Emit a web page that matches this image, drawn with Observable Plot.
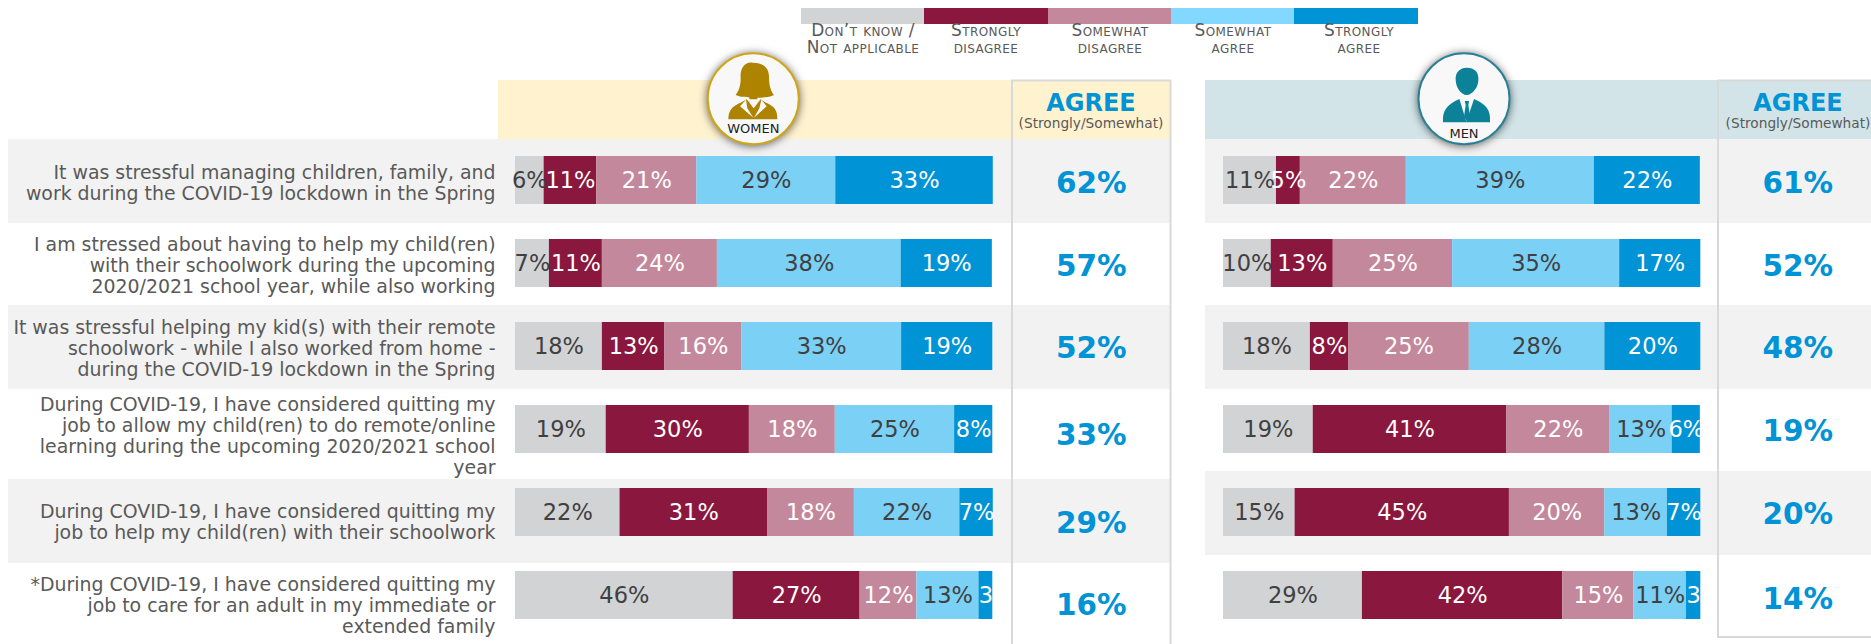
<!DOCTYPE html>
<html><head><meta charset="utf-8">
<style>html,body{margin:0;padding:0;background:#fff;overflow:hidden}svg{display:block}</style>
<script src="https://cdn.jsdelivr.net/npm/d3@7"></script>
<script src="https://cdn.jsdelivr.net/npm/@observablehq/plot@0.6"></script>
</head><body><div id="chart"></div>
<script>
const categories = ["Don’t know /\nNot applicable","Strongly\ndisagree","Somewhat\ndisagree","Somewhat\nagree","Strongly\nagree"];
const colors = ["#D2D3D5","#8A173E","#C4889C","#7BD0F6","#0093D5"];
const questions = [
 "It was stressful managing children, family, and\nwork during the COVID-19 lockdown in the Spring",
 "I am stressed about having to help my child(ren)\nwith their schoolwork during the upcoming\n2020/2021 school year, while also working",
 "It was stressful helping my kid(s) with their remote\nschoolwork - while I also worked from home -\nduring the COVID-19 lockdown in the Spring",
 "During COVID-19, I have considered quitting my\njob to allow my child(ren) to do remote/online\nlearning during the upcoming 2020/2021 school\nyear",
 "During COVID-19, I have considered quitting my\njob to help my child(ren) with their schoolwork",
 "*During COVID-19, I have considered quitting my\njob to care for an adult in my immediate or\nextended family"
];
const womenValues = [
 [6.0,11.0,21.0,29.1,33.0],
 [7.1,11.1,24.1,38.5,19.1],
 [18.2,13.1,16.1,33.5,19.1],
 [19.0,30.0,18.0,25.0,8.0],
 [21.9,30.9,18.2,22.1,7.0],
 [45.6,26.6,11.9,13.0,2.9]
];
const womenLabels = [
 ["6%","11%","21%","29%","33%"],
 ["7%","11%","24%","38%","19%"],
 ["18%","13%","16%","33%","19%"],
 ["19%","30%","18%","25%","8%"],
 ["22%","31%","18%","22%","7%"],
 ["46%","27%","12%","13%","3"]
];
const menValues = [
 [11.1,5.0,22.2,39.4,22.2],
 [10.0,13.0,25.0,35.0,17.0],
 [18.2,8.0,25.3,28.4,20.1],
 [18.8,40.5,21.7,13.0,5.9],
 [15.0,44.9,20.0,13.1,7.0],
 [29.1,42.0,14.9,11.0,3.0]
];
const menLabels = [
 ["11%","5%","22%","39%","22%"],
 ["10%","13%","25%","35%","17%"],
 ["18%","8%","25%","28%","20%"],
 ["19%","41%","22%","13%","6%"],
 ["15%","45%","20%","13%","7%"],
 ["29%","42%","15%","11%","3"]
];
const womenAgree = ["62%","57%","52%","33%","29%","16%"];
const menAgree = ["61%","52%","48%","19%","20%","14%"];

const FONT = "'DejaVu Sans', Verdana, sans-serif";
const MEN_DX = 708;
const tall = (vals, labs) => vals.flatMap((row, i) => row.map((value, j) => ({q: questions[i], cat: categories[j], value, label: labs[i][j], j})));
const women = tall(womenValues, womenLabels);
const men = tall(menValues, menLabels);

function decor(index, scales) {
  const g = d3.create("svg:g").attr("font-family", FONT);
  const yc = i => scales.y(questions[i]) + scales.y.bandwidth() / 2;
  const rect = (x, y, w, h, fill) => g.append("rect").attr("x", x).attr("y", y).attr("width", w).attr("height", h).attr("fill", fill);
  // row bands
  [[0, 0], [2, 0], [4, 8]].forEach(([i, s]) => rect(8, yc(i) - 41 + s, 1163, 84, "#F2F2F2"));
  [0, 2, 4].forEach(i => rect(1205, yc(i) - 41, 666, 84, "#F2F2F2"));
  // headers
  rect(498, 80, 673, 59, "#FFF2CF");
  rect(1205, 80, 666, 59, "#D2E4E8");
  // Agree boxes
  const line = (d) => g.append("path").attr("d", d).attr("fill", "none").attr("stroke", "#D9D9D9").attr("stroke-width", 2);
  line("M1012,644V80.5H1170.5V644");
  line("M1871,637H1718V80.5H1871");
  // Agree headers
  const text = (x, y, s, size, fill, weight) => g.append("text").attr("x", x).attr("y", y).attr("dy", "0.35em").attr("text-anchor", "middle").attr("font-size", size).attr("fill", fill).attr("font-weight", weight || "normal").text(s);
  [1091, 1798].forEach(x => {
    text(x, 103, "AGREE", 24, "#0093D5", "bold");
    text(x, 123, "(Strongly/Somewhat)", 13.7, "#595959");
  });
  // legend
  const edges = [801, 924, 1048, 1171, 1294, 1418];
  const centers = [863, 986, 1110, 1233, 1359];
  categories.forEach((c, i) => {
    rect(edges[i], 8, edges[i + 1] - edges[i], 16, i === 3 ? "#82D8FF" : scales.color(c));
    c.split("\n").forEach((t, k) => text(centers[i], 30.5 + k * 17, t, 17, "#595959").attr("font-variant", "small-caps").attr("letter-spacing", 0.4));
  });
  // badges
  const badge = (cx, stroke, iconFill, label, labelY, draw) => {
    g.append("circle").attr("cx", cx).attr("cy", 98.7).attr("r", 45.5).attr("fill", "#F8F8F8").attr("stroke", stroke).attr("stroke-width", 2)
      .style("filter", "drop-shadow(0 1px 4px rgba(0,0,0,.6))");
    const ic = g.append("g").attr("transform", `translate(${cx - 63.3},45) scale(${1 / 3})`).attr("fill", iconFill);
    draw(ic);
    text(cx, labelY, label, 13, "#222");
  };
  badge(753.3, "#CFA616", "#AD8300", "WOMEN", 128, ic => {
    ic.append("path").attr("d", "M188 53C160 50 150 75 152 100C152 125 145 140 137 150C155 158 170 155 178 157L178 172L202 172L202 158C215 158 235 158 252 150C240 135 237 115 237 95C237 70 220 53 188 53Z");
    ic.append("path").attr("d", "M115 223L262 223C262 195 255 185 225 172L212 163L191 190L170 163L155 172C125 185 116 195 115 223Z");
    ic.append("path").attr("fill", "#F8F8F8").attr("d", "M168 164L150 184L190 218L172 190ZM214 164L230 184L192 218L208 190ZM174 163L191 188L208 163Z");
  });
  badge(1464, "#2A8195", "#0C8299", "MEN", 133, ic => {
    ic.append("path").attr("d", "M198 68C175 68 163 85 165 105C165 125 180 150 198 150C216 150 233 125 233 105C235 82 222 68 198 68Z");
    ic.append("path").attr("d", "M127 232C125 200 135 180 176 162L197 230L220 162C262 180 270 200 268 232Z");
    ic.append("path").attr("d", "M192 168L205 168L203 180L208 214L199 230L190 214L195 180Z");
  });
  return g.node();
}

const textFill = d => ({value: r => (r.j === 0 || r.j === 3) ? "#404040" : "#FFFFFF", scale: null});
const labelShift = [2, 2, 2, 6.5, 9.5, 9.5];
const womenAgreeShift = [3, 3, 2, 6.5, 11, 10.5];
const menAgreeShift = [3, 3, 2, 2.5, 2.5, 4];

const plot = Plot.plot({
  width: 1871, height: 644, margin: 0,
  style: {fontFamily: FONT, background: "#fff", overflow: "hidden"},
  x: {domain: [0, 100], range: [515, 992.3], axis: null},
  y: {domain: questions, range: [138.5, 636.5], paddingInner: 0.4217, paddingOuter: 0.2108, axis: null},
  color: {domain: categories, range: colors},
  marks: [
    decor,
    Plot.barX(women, Plot.stackX({x: "value", y: "q", fill: "cat", order: null})),
    Plot.barX(men, Plot.stackX({x: "value", y: "q", fill: "cat", order: null, dx: MEN_DX})),
    Plot.text(women, Plot.stackX({x: "value", y: "q", z: "cat", order: null, text: "label", fontSize: 22.5, fill: textFill()})),
    Plot.text(men, Plot.stackX({x: "value", y: "q", z: "cat", order: null, text: "label", fontSize: 22.5, fill: textFill(), dx: MEN_DX})),
    ...questions.map((q, i) => Plot.text([q], {x: 0, y: d => d, text: d => d, textAnchor: "end", dx: -20, dy: labelShift[i], fontSize: 18.9, lineHeight: 1.11, fill: "#595959"})),
    ...questions.map((q, i) => Plot.text([q], {x: 100, y: d => d, text: () => womenAgree[i], dx: 98.5, dy: womenAgreeShift[i], fontSize: 29.5, fontWeight: "bold", fill: "#0093D5"})),
    ...questions.map((q, i) => Plot.text([q], {x: 100, y: d => d, text: () => menAgree[i], dx: 805, dy: menAgreeShift[i], fontSize: 29.5, fontWeight: "bold", fill: "#0093D5"}))
  ]
});
document.getElementById("chart").append(plot);
</script></body></html>
